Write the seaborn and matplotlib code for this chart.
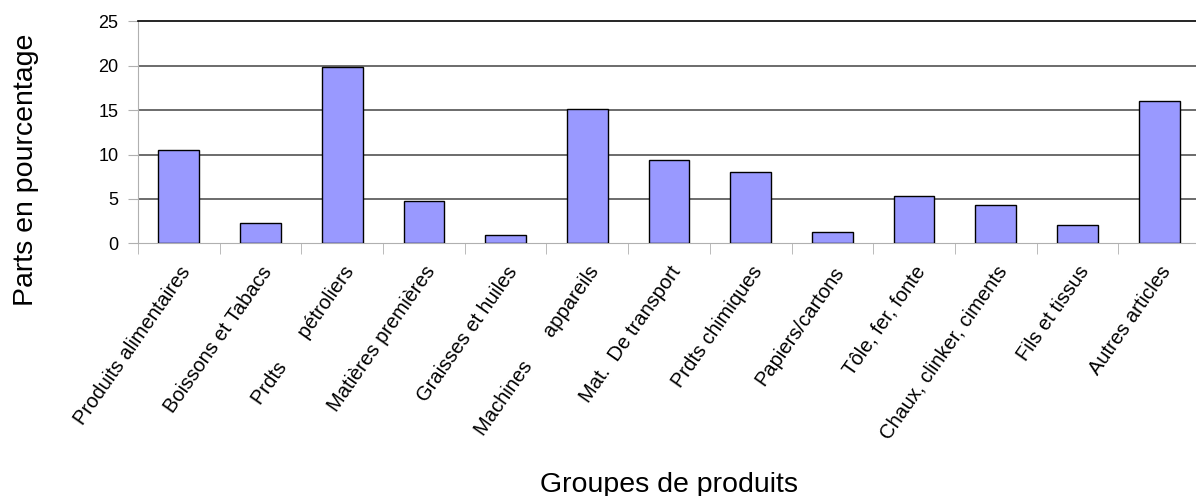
import matplotlib
matplotlib.use("Agg")
import matplotlib.pyplot as plt
import pandas as pd
import seaborn as sns
import numpy as np
from matplotlib.ticker import FixedLocator

# groupes de produits et parts (%)
categories = ["Produits alimentaires", "Boissons et Tabacs", "Prdts      pétroliers",
              "Matières premières", "Graisses et huiles", "Machines      appareils",
              "Mat.  De transport", "Prdts chimiques", "Papiers/cartons",
              "Tôle, fer, fonte", "Chaux, clinker, ciments", "Fils et tissus",
              "Autres articles"]
parts = [10.5, 2.3, 19.9, 4.8, 0.9, 15.1, 9.4, 8.0, 1.3, 5.3, 4.3, 2.1, 16.0]
yticks = [0, 5, 10, 15, 20, 25]

df = pd.DataFrame({"groupe": categories, "part": parts})

sns.set_style("white")
plt.rcParams['font.family'] = ['Liberation Sans', 'DejaVu Sans']
plt.rcParams['text.color'] = 'black'
plt.rcParams['axes.labelcolor'] = 'black'

fig = plt.figure(figsize=(11.96, 4.96), dpi=100)
ax = fig.add_axes([138 / 1196, 1 - 243.3 / 496, 1062 / 1196, 222 / 496])

sns.barplot(data=df, x="groupe", y="part", color="#9999ff", edgecolor="black",
            linewidth=1.0, width=0.5, saturation=1, ax=ax, zorder=3)

ax.set_xlim(-0.5, len(categories) - 0.5)
ax.set_ylim(0, 25)
ax.set_yticks(yticks)
# lignes de grille
for v in yticks[1:-1]:
    ax.axhline(v, color="#444444", lw=1.1, zorder=1)

ax.spines["top"].set_color("black")
ax.spines["top"].set_linewidth(1.2)
ax.spines["right"].set_visible(False)
ax.spines["left"].set_color("#b0b0b0")
ax.spines["bottom"].set_color("#b0b0b0")

ax.tick_params(axis="y", left=True, length=7, color="#b0b0b0", labelcolor="black",
               labelsize=13, pad=7)
ax.tick_params(axis="x", which="major", length=0, labelsize=14.5, labelcolor="black", pad=14)
ax.xaxis.set_minor_locator(FixedLocator(np.arange(-0.5, len(categories), 1)))
ax.tick_params(axis="x", which="minor", bottom=True, length=8, color="#b0b0b0")
plt.setp(ax.get_xticklabels(), rotation=55, ha="right", rotation_mode="anchor")

ax.set_xlabel("Groupes de produits", fontsize=20.5)
ax.xaxis.set_label_coords(0.5, -1.03)
ax.set_ylabel("Parts en pourcentage", fontsize=20.5)
ax.yaxis.set_label_coords(-0.093, 0.332)

fig.savefig("out.png", dpi=100)
